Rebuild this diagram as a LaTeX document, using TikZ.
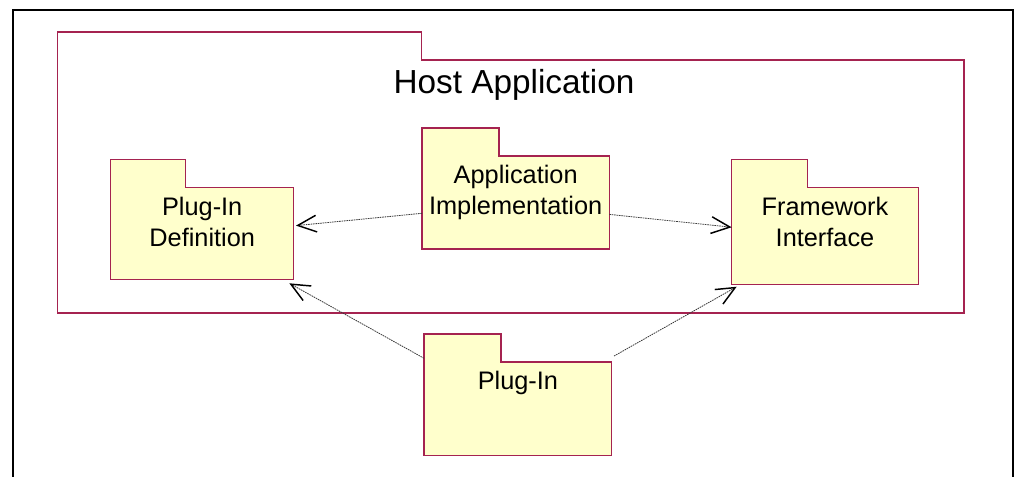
\documentclass[tikz,border=0pt]{standalone}
\usepackage{fontspec}
\setmainfont{Liberation Sans}
\usepackage{tikz}
\usetikzlibrary{positioning,arrows.meta}
\definecolor{pkgline}{HTML}{A52350}
\definecolor{pkgfill}{HTML}{FFFFCC}
\definecolor{depline}{HTML}{3A3A3A}
\tikzset{
  pkgbody/.style={rectangle,fill=pkgfill,inner sep=0pt,outer sep=0pt},
  pkgedge/.style={draw=pkgline,line width=0.95pt,line join=miter},
  pkgname/.style={font=\fontsize{19}{23.5}\selectfont,align=center,inner sep=0pt,anchor=north},
  dep/.style={depline,line width=0.6pt,dash pattern=on 1.2pt off 0.6pt,
    -{Straight Barb[length=14pt,width=12.5pt,line width=1.1pt,color=black]}},
}

\begin{document}
\begin{tikzpicture}[x=0.75pt,y=-0.75pt]
  \useasboundingbox (0,0) rectangle (1014,477);
  \draw[line width=1.5pt] (13.3,477) -- (13.3,10) -- (1012.7,10) -- (1012.7,477);

  % package bodies (tabs are added below)
  \node[pkgbody,fill=white,minimum width=679.7pt,minimum height=189.8pt] (host) at (510.9,186.5) {};
  \node[pkgbody,minimum width=137.3pt,minimum height=68.7pt] (defn) at (202.2,233.5) {};
  \node[pkgbody,minimum width=140.5pt,minimum height=69.8pt] (impl) at (515.7,202.5) {};
  \node[pkgbody,minimum width=140pt,minimum height=72.8pt] (fwk) at (825,236.2) {};
  \node[pkgbody,minimum width=140.8pt,minimum height=70.3pt] (plugin) at (517.9,408.9) {};

  \foreach \n/\w/\c in {host/364/white,defn/75/pkgfill,impl/77/pkgfill,fwk/76/pkgfill,plugin/77/pkgfill} {
    \fill[\c] (\n.north west) rectangle ++(\w,-28);
    \draw[pkgedge] (\n.north west) -- ++(0,-28) -- ++(\w,0) -- ++(0,28)
      -- (\n.north east) -- (\n.south east) -- (\n.south west) -- cycle;
  }

  \node[pkgname,font=\fontsize{25}{30}\selectfont,anchor=base] (hostname) at ([xshift=2.3pt,yshift=-25.5pt]host.north) {Host Application};
  \node[pkgname] (defnname) at ([yshift=-6.6pt]defn.north) {Plug-In\\Definition};
  \node[pkgname] (implname) at ([yshift=-6.6pt]impl.north) {Application\\Implementation};
  \node[pkgname] (fwkname) at ([yshift=-6.6pt]fwk.north) {Framework\\Interface};
  \node[pkgname] (pluginname) at ([yshift=-6.6pt]plugin.north) {Plug-In};

  % dependencies
  \draw[dep] ([yshift=-8.1pt]impl.west) -- ([xshift=1.7pt,yshift=5.9pt]defn.east);
  \draw[dep] ([yshift=-8.9pt]impl.east) -- ([yshift=6.7pt]fwk.west);
  \draw[dep] ([yshift=2.8pt]plugin.north west) -- ([shift={(-3.3pt,-3pt)}]defn.south east);
  \draw[dep] ([shift={(1.7pt,4.5pt)}]plugin.north east) -- ([shift={(3.75pt,-1.5pt)}]fwk.south west);
\end{tikzpicture}
\end{document}
